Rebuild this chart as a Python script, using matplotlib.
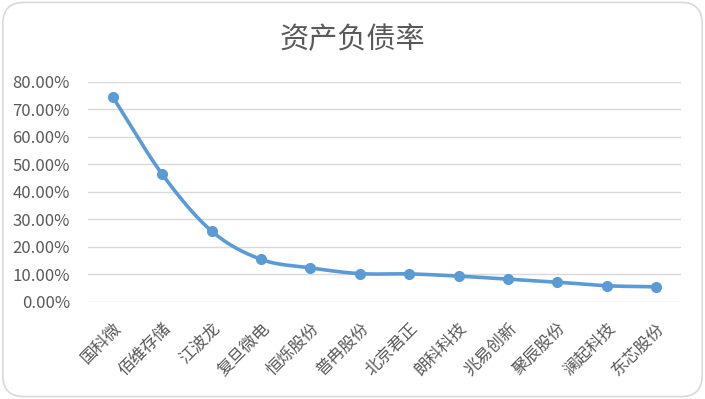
import numpy as np
import matplotlib.pyplot as plt
from matplotlib.patches import FancyBboxPatch
from matplotlib.ticker import FuncFormatter, MultipleLocator

plt.rcParams['font.family'] = ['Noto Sans CJK SC', 'DejaVu Sans']

companies = ["国科微", "佰维存储", "江波龙", "复旦微电", "恒烁股份", "普冉股份",
             "北京君正", "朗科科技", "兆易创新", "聚辰股份", "澜起科技", "东芯股份"]
debt_ratio = [0.745, 0.464, 0.257, 0.154, 0.123, 0.102,
              0.101, 0.093, 0.082, 0.071, 0.058, 0.054]

blue = "#5B9BD5"
grey_text = "#595959"
grid_col = "#D9D9D9"


def smooth(x, y, n=30):
    # catmull-rom style curve through the points, like excel "smoothed line"
    x = np.asarray(x, float)
    y = np.asarray(y, float)
    px = np.concatenate([[2 * x[0] - x[1]], x, [2 * x[-1] - x[-2]]])
    py = np.concatenate([[2 * y[0] - y[1]], y, [2 * y[-1] - y[-2]]])
    xs, ys = [], []
    t = np.linspace(0, 1, n)
    for i in range(1, len(px) - 2):
        for p, out in ((px, xs), (py, ys)):
            p0, p1, p2, p3 = p[i - 1], p[i], p[i + 1], p[i + 2]
            c1 = p1 + (p2 - p0) / 6.0
            c2 = p2 - (p3 - p1) / 6.0
            out.extend((1 - t) ** 3 * p1 + 3 * (1 - t) ** 2 * t * c1
                       + 3 * (1 - t) * t ** 2 * c2 + t ** 3 * p2)
    return np.array(xs), np.array(ys)


fig = plt.figure(figsize=(7.05, 3.99), dpi=100)
fig.patches.append(FancyBboxPatch((0.004, 0.006), 0.992, 0.988,
                                  boxstyle="round,pad=0,rounding_size=0.03",
                                  transform=fig.transFigure, facecolor="white",
                                  edgecolor=grid_col, linewidth=1.2, zorder=-1,
                                  mutation_aspect=705 / 399))

ax = fig.add_axes([0.1248, 0.2439, 0.8412, 0.5513])
ax.set_facecolor("none")
x = np.arange(len(companies))
sx, sy = smooth(x, debt_ratio)
ax.plot(sx, sy, color=blue, linewidth=2.6, solid_capstyle="round", zorder=3)
ax.plot(x, debt_ratio, "o", color=blue, markersize=7, zorder=4)

ax.set_xlim(-0.5, len(companies) - 0.5)
ax.set_ylim(0, 0.8)
ax.yaxis.set_major_locator(MultipleLocator(0.1))
ax.yaxis.set_major_formatter(FuncFormatter(lambda v, p: f"{v * 100:.2f}%"))
ax.grid(axis="y", color=grid_col, linewidth=1.0)
ax.set_axisbelow(True)
for s in ax.spines.values():
    s.set_visible(False)
ax.tick_params(axis="both", length=0, colors=grey_text)
ax.tick_params(axis="y", pad=13, labelsize=12)
ax.tick_params(axis="x", pad=13)
ax.set_xticks(x)
ax.set_xticklabels(companies, rotation=45, ha="right", rotation_mode="anchor",
                   fontsize=12)

fig.text(0.5, 0.9, "资产负债率", ha="center", va="center", fontsize=21,
         color=grey_text)

fig.savefig("out.png", dpi=100)
